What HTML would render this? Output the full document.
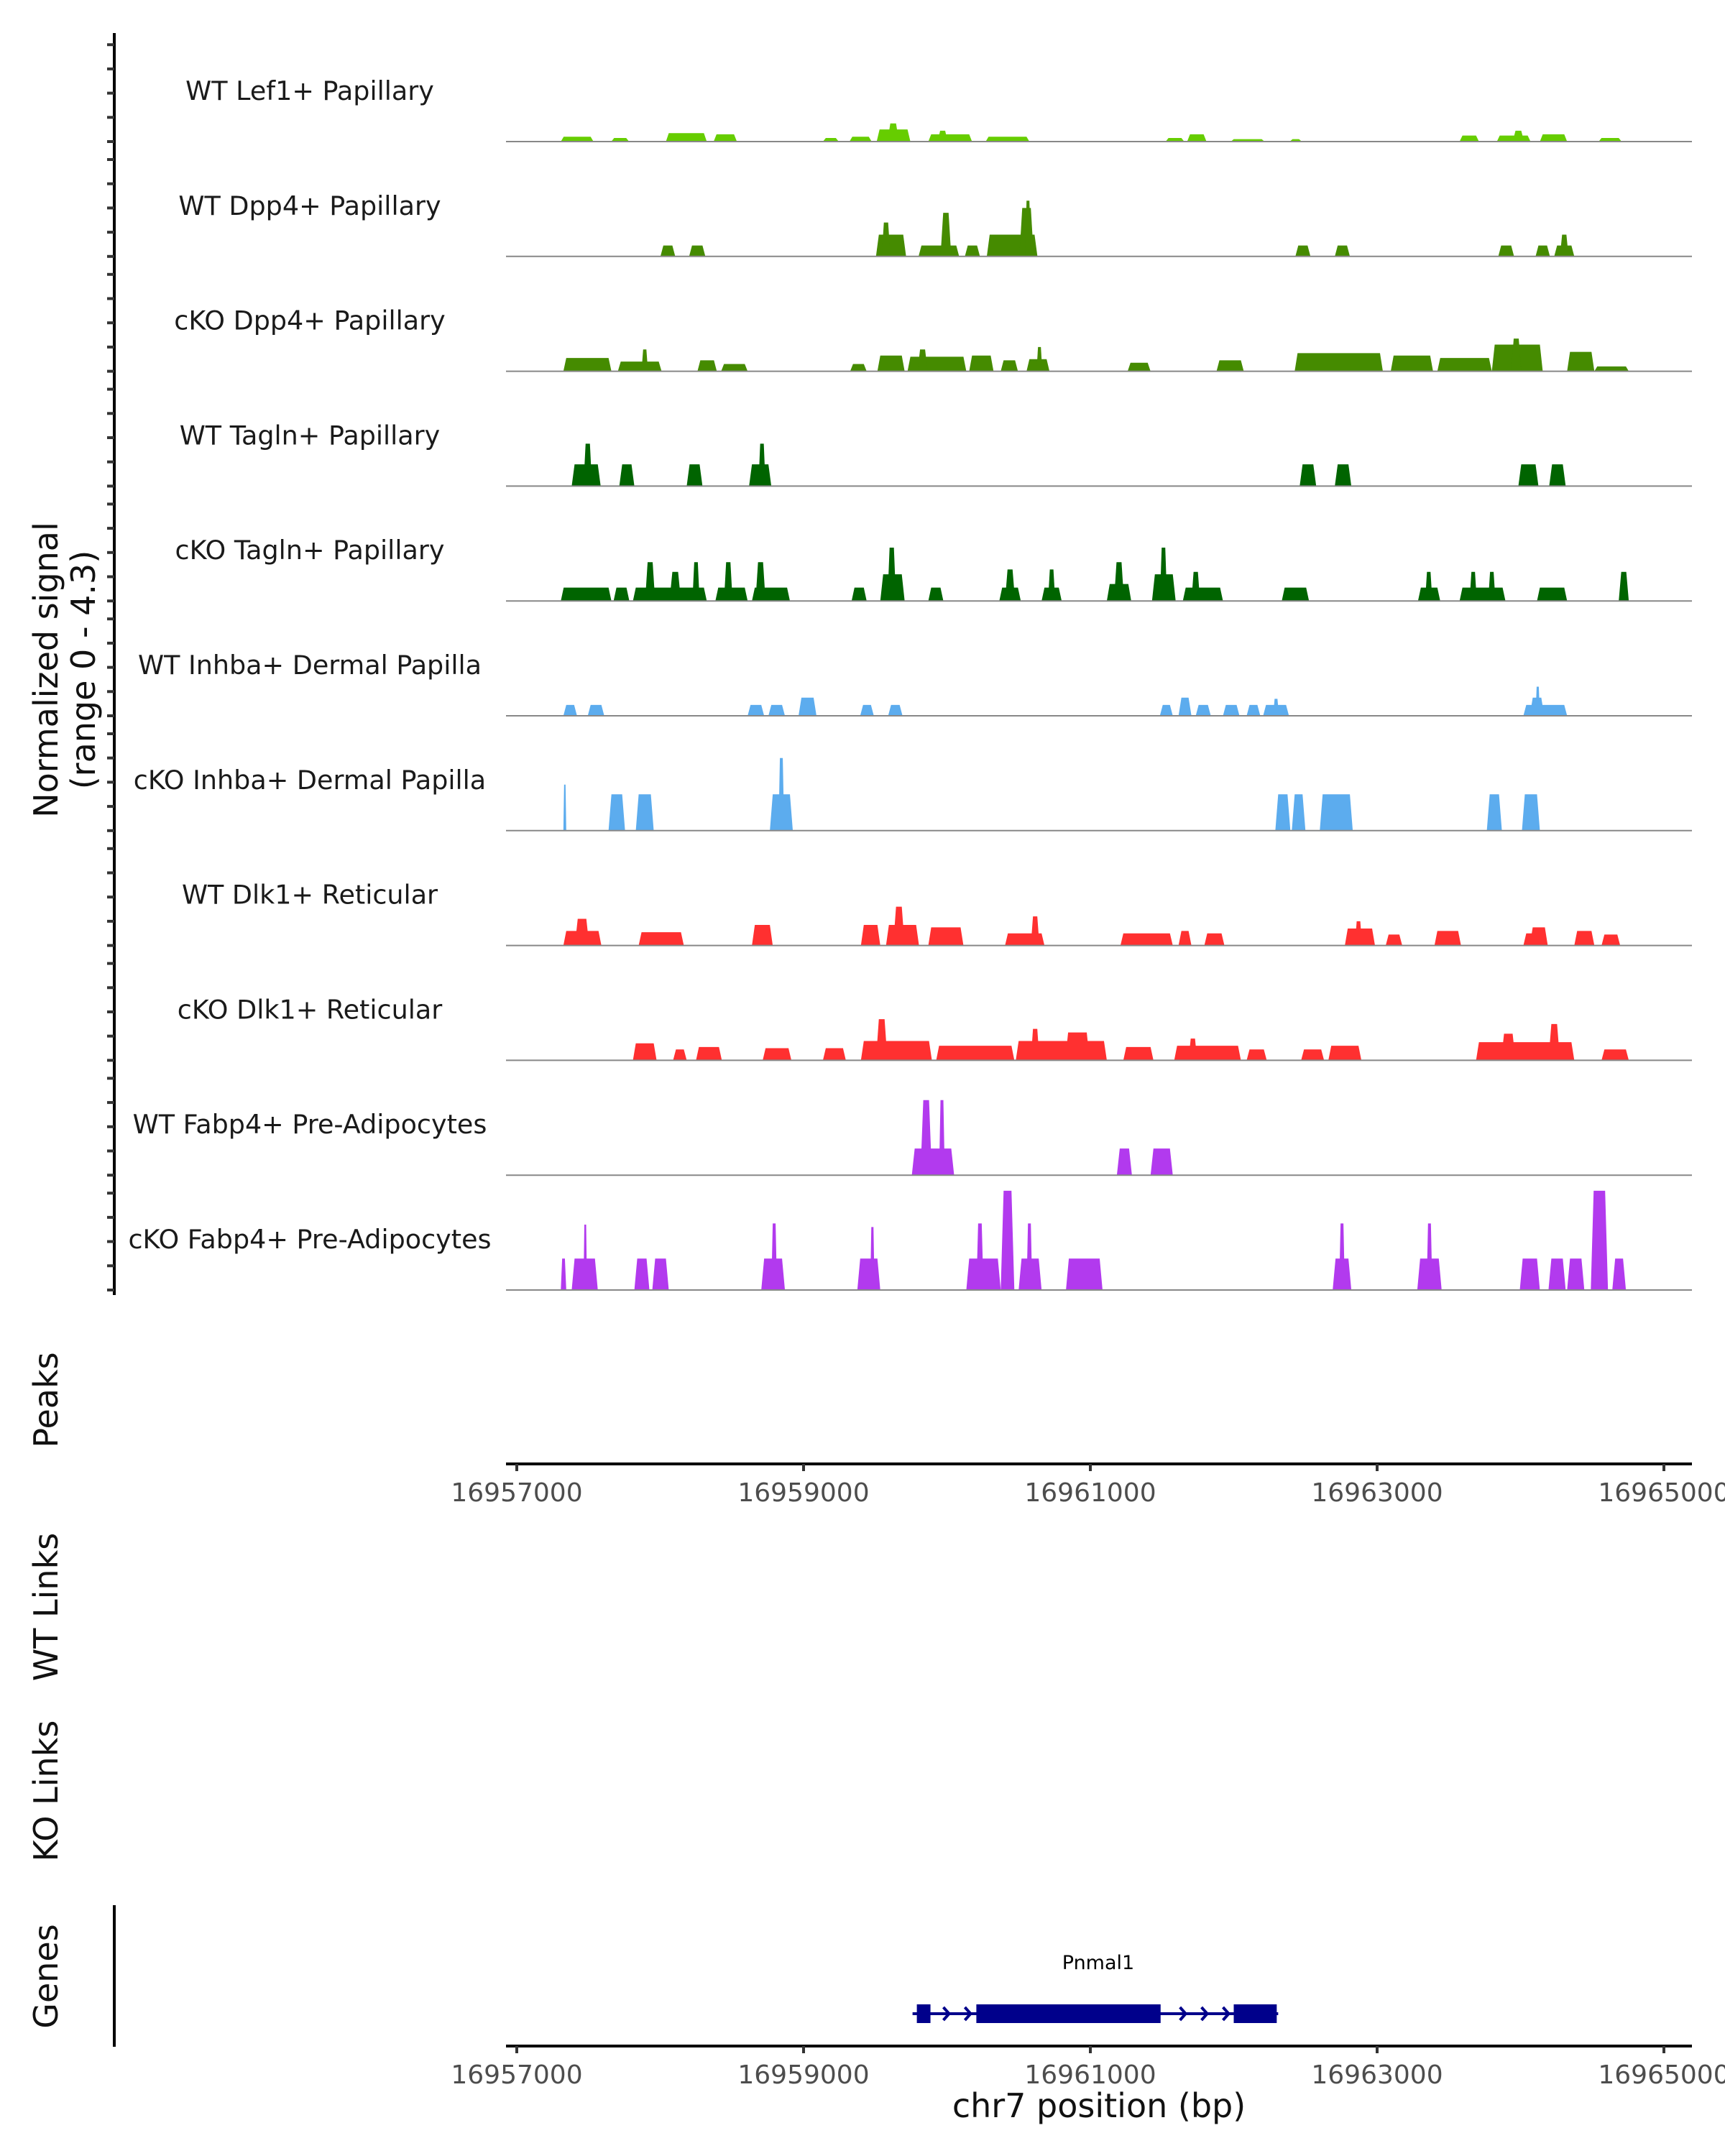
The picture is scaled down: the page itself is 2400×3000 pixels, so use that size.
<!DOCTYPE html>
<html><head><meta charset="utf-8"><style>
html,body{margin:0;padding:0;background:#fff}
svg{display:block;font-family:"DejaVu Sans","Liberation Sans",sans-serif}
</style></head><body>
<svg id="chart" width="2400" height="3000" viewBox="0 0 2400 3000" xmlns="http://www.w3.org/2000/svg">
<g id="left-axis"></g>
<g id="tracks"></g>
<text transform="translate(80,932) rotate(-90)" text-anchor="middle" font-size="46" fill="#111">Normalized signal</text>
<text transform="translate(132,932) rotate(-90)" text-anchor="middle" font-size="46" fill="#111">(range 0 - 4.3)</text>
<text transform="translate(80,1948) rotate(-90)" text-anchor="middle" font-size="46" fill="#111">Peaks</text>
<text transform="translate(80,2236) rotate(-90)" text-anchor="middle" font-size="46" fill="#111">WT Links</text>
<text transform="translate(80,2492) rotate(-90)" text-anchor="middle" font-size="46" fill="#111">KO Links</text>
<text transform="translate(80,2750) rotate(-90)" text-anchor="middle" font-size="46" fill="#111">Genes</text>
<line x1="159" y1="2651" x2="159" y2="2848" stroke="#000" stroke-width="4"/>
<g id="axis1"></g>
<g id="axis2"></g>
<g id="gene"></g>
<text x="1529" y="2946" text-anchor="middle" font-size="46" fill="#111">chr7 position (bp)</text>
</svg>
<script>
const START = 16957000, END = 16965000;
const tickLabels = [16957000, 16959000, 16961000, 16963000, 16965000];
const trackNames = ["WT Lef1+ Papillary","WT Dpp4+ Papillary","cKO Dpp4+ Papillary","WT Tagln+ Papillary","cKO Tagln+ Papillary","WT Inhba+ Dermal Papilla","cKO Inhba+ Dermal Papilla","WT Dlk1+ Reticular","cKO Dlk1+ Reticular","WT Fabp4+ Pre-Adipocytes","cKO Fabp4+ Pre-Adipocytes"];
const trackColors = ["#66cd00","#458b00","#458b00","#006400","#006400","#5cacee","#5cacee","#ff3030","#ff3030","#b23aee","#b23aee"];
// blocks: [start offset bp, end offset bp, signal]
const lef1WT = [[307,535,0.2],[659,783,0.15],[1040,1325,0.35],[1373,1535,0.3],[2135,2245,0.15],[2320,2475,0.2],[2510,2745,0.5],[2585,2665,0.75],[2870,3175,0.3],[2935,3005,0.45],[3270,3575,0.2],[4525,4655,0.15],[4675,4810,0.3],[4980,5215,0.1],[5390,5475,0.1],[6575,6710,0.25],[6835,7070,0.25],[6945,7025,0.45],[7135,7325,0.3],[7545,7705,0.15]];
const dpp4WT = [[1002,1105,0.45],[1202,1315,0.45],[2505,2715,0.9],[2545,2605,1.4],[2802,3085,0.45],[2955,3030,1.8],[3125,3230,0.45],[3278,3631,0.9],[3505,3605,2.0],[3545,3585,2.3],[5430,5535,0.45],[5705,5810,0.45],[6845,6955,0.45],[7105,7205,0.45],[7235,7375,0.45],[7275,7335,0.9]];
const dpp4KO = [[325,660,0.55],[705,1010,0.4],[870,915,0.9],[1260,1395,0.45],[1425,1610,0.3],[2325,2440,0.3],[2515,2705,0.65],[2725,3135,0.6],[2795,2865,0.9],[3155,3325,0.65],[3375,3495,0.45],[3555,3715,0.5],[3625,3665,1.0],[4260,4420,0.35],[4880,5070,0.45],[5425,6040,0.75],[6095,6390,0.65],[6420,6800,0.55],[6800,7155,1.1],[6935,7005,1.35],[7325,7515,0.8],[7515,7755,0.2]];
const taglnWT = [[383,585,0.9],[465,525,1.75],[715,820,0.9],[1185,1295,0.9],[1620,1775,0.9],[1685,1735,1.75],[5460,5575,0.9],[5705,5820,0.9],[6985,7125,0.9],[7200,7315,0.9]];
const taglnKO = [[307,660,0.55],[675,785,0.55],[810,1325,0.55],[895,965,1.6],[1065,1145,1.2],[1225,1275,1.6],[1385,1610,0.55],[1445,1505,1.6],[1640,1905,0.55],[1665,1735,1.6],[2335,2440,0.55],[2535,2705,1.1],[2585,2645,2.2],[2870,2975,0.55],[3365,3515,0.55],[3405,3475,1.3],[3660,3800,0.55],[3705,3755,1.3],[4115,4285,0.7],[4165,4235,1.6],[4430,4595,1.1],[4485,4535,2.2],[4645,4925,0.55],[4705,4765,1.2],[5335,5525,0.55],[6285,6440,0.55],[6335,6385,1.2],[6575,6895,0.55],[6645,6695,1.2],[6775,6825,1.2],[7115,7325,0.55],[7685,7755,1.2]];
const inhbaWT = [[325,420,0.45],[495,610,0.45],[1610,1725,0.45],[1755,1870,0.45],[1965,2090,0.75],[2395,2490,0.45],[2590,2690,0.45],[4485,4575,0.45],[4615,4705,0.75],[4735,4840,0.45],[4925,5040,0.45],[5090,5185,0.45],[5205,5385,0.45],[5275,5315,0.7],[7020,7325,0.45],[7065,7165,0.75],[7105,7135,1.2]];
const inhbaKO = [[325,345,1.9],[640,755,1.5],[830,955,1.5],[1765,1925,1.5],[1825,1865,3.0],[5290,5395,1.5],[5405,5500,1.5],[5600,5830,1.5],[6765,6870,1.5],[7010,7135,1.5]];
const dlk1WT = [[325,590,0.6],[405,505,1.1],[850,1165,0.55],[1640,1785,0.85],[2400,2535,0.85],[2575,2805,0.85],[2625,2705,1.6],[2870,3115,0.75],[3405,3680,0.5],[3585,3645,1.2],[4210,4575,0.5],[4615,4705,0.6],[4795,4935,0.5],[5775,5985,0.7],[5845,5895,1.0],[6060,6175,0.45],[6400,6585,0.6],[7020,7115,0.5],[7065,7190,0.75],[7375,7515,0.6],[7565,7695,0.45]];
const dlk1KO = [[810,975,0.7],[1090,1185,0.45],[1250,1430,0.55],[1715,1915,0.5],[2135,2295,0.5],[2400,2895,0.8],[2505,2585,1.7],[2925,3470,0.6],[3480,4115,0.8],[3585,3645,1.3],[3825,3995,1.15],[4230,4440,0.55],[4585,5050,0.6],[4685,4745,0.9],[5090,5230,0.45],[5470,5630,0.45],[5660,5890,0.6],[6690,7375,0.75],[6865,6965,1.1],[7195,7275,1.5],[7565,7755,0.45]];
const fabp4WT = [[2755,3050,1.1],[2815,2895,3.1],[2945,2985,3.1],[4185,4290,1.1],[4420,4575,1.1]];
const fabp4KO = [[307,345,1.3],[383,565,1.3],[465,490,2.7],[820,925,1.3],[945,1060,1.3],[1705,1870,1.3],[1775,1815,2.75],[2375,2535,1.3],[2465,2495,2.6],[3135,3375,1.3],[3205,3255,2.75],[3375,3470,4.1],[3500,3660,1.3],[3555,3595,2.75],[3830,4085,1.3],[5690,5820,1.3],[5735,5775,2.75],[6280,6450,1.3],[6345,6385,2.75],[6995,7135,1.3],[7195,7315,1.3],[7325,7445,1.3],[7490,7610,4.1],[7640,7735,1.3]];
const trackData = [lef1WT,dpp4WT,dpp4KO,taglnWT,taglnKO,inhbaWT,inhbaKO,dlk1WT,dlk1KO,fabp4WT,fabp4KO];
const exons = [[16959790,16959885],[16960205,16961490],[16962000,16962300]];
const geneSpan = [16959760, 16962310];

const NS = "http://www.w3.org/2000/svg";
const X0 = 719, PXBP = 1596/8000;
function xScale(bp){ return X0 + (bp - START) * PXBP; }
const PXV = 33.7;
function yScale(v, base){ return base - v * PXV; }
function mk(tag, attrs, parent){ const e = document.createElementNS(NS, tag); for (const k in attrs) e.setAttribute(k, attrs[k]); parent.appendChild(e); return e; }

const tracksG = document.getElementById('tracks');
const axisG = document.getElementById('left-axis');
const base0 = 197, step = 159.8;
const ax = mk('line', {x1:159,y1:46,x2:159,y2:1802,stroke:'#000','stroke-width':4}, axisG);


trackNames.forEach((name, i) => {
  const base = base0 + i * step;
  const g = mk('g', {}, tracksG);
  
  
  for (let k = 0; k <= 4; k++) {
    const t = mk('line', {x1:149,x2:159,y1:yScale(k, base),y2:yScale(k, base),stroke:'#333','stroke-width':4}, axisG);
    
    
  }
  const lab = mk('text', {x:431,y:base-58,'text-anchor':'middle','font-size':36.5,fill:'#1a1a1a'}, g);
  lab.textContent = name;
  
  
  trackData[i].forEach(b => {
    const x1 = xScale(START + b[0]), x2 = xScale(START + b[1]);
    const yT = yScale(b[2], base);
    const s = Math.min(4, (x2 - x1) / 4);
    const p = mk('polygon', {points:`${x1},${base} ${x1+s},${yT} ${x2-s},${yT} ${x2},${base}`, fill:trackColors[i]}, g);
    
    
  });
  const bl = mk('line', {x1:704,x2:2354,y1:base,y2:base,stroke:'#888','stroke-width':2}, g);
  
  
});

function drawAxis(gid, y){
  const g = document.getElementById(gid);
  const l = mk('line', {x1:704,x2:2354,y1:y,y2:y,stroke:'#000','stroke-width':4}, g);
  
  
  tickLabels.forEach(v => {
    const x = xScale(v);
    const t = mk('line', {x1:x,x2:x,y1:y,y2:y+10,stroke:'#333','stroke-width':4}, g);
    
    
    const tx = mk('text', {x:x,y:y+52,'text-anchor':'middle','font-size':36,fill:'#4d4d4d'}, g);
    tx.textContent = v;
    
    
  });
}
drawAxis('axis1', 2037);
drawAxis('axis2', 2847);

const gg = document.getElementById('gene');
const gy = 2802;
const gl = mk('line', {x1:xScale(geneSpan[0]),x2:xScale(geneSpan[1]),y1:gy,y2:gy,stroke:'#00008b','stroke-width':4}, gg);


[16960000,16960150,16961650,16961800,16961950].forEach(p => {
  const x = xScale(p);
  const a = mk('polyline', {points:`${x-5},${gy-9} ${x+3},${gy} ${x-5},${gy+9}`, fill:'none', stroke:'#00008b','stroke-width':4}, gg);
  
  
});
exons.forEach(e => {
  const r = mk('rect', {x:xScale(e[0]),y:gy-13,width:xScale(e[1])-xScale(e[0]),height:26,fill:'#00008b'}, gg);
  
  
});
const gn = mk('text', {x:1528,y:2740,'text-anchor':'middle','font-size':27,fill:'#000'}, gg);
gn.textContent = 'Pnmal1';


</script>
</body></html>
